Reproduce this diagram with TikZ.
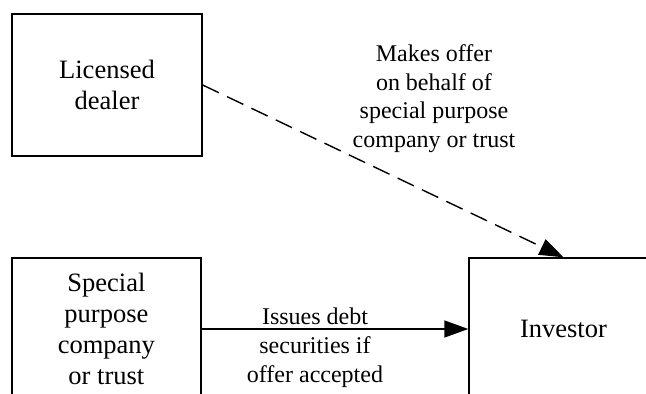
\documentclass[tikz,border=0pt]{standalone}
\usepackage{fontspec}
\setmainfont{Liberation Serif}
\usetikzlibrary{arrows.meta}
\begin{document}
\begin{tikzpicture}[x=1pt,y=-1pt,
  box/.style={draw, line width=1.4pt, minimum width=189pt, minimum height=142pt,
    inner sep=0pt, align=center, font=\fontsize{26.5}{31}\selectfont},
  lab/.style={align=center, inner sep=0pt, font=\fontsize{24}{28.6}\selectfont},
  conn/.style={line width=1.4pt, -{Triangle[length=24pt,width=17pt]}},
  dashconn/.style={conn, dash pattern=on 18pt off 9pt}]
\clip (0,0) rectangle (646,394);
\node[box, minimum width=190pt] (dealer) at (107,85) {Licensed\\dealer};
\node[box] (spc) at (106.4,329) {Special\\purpose\\company\\or trust};
\node[box] (investor) at (563.5,329) {Investor};
\draw[dashconn] (dealer.east) -- (investor.north);
\draw[conn] (spc.east) -- (investor.west);
\node[lab] (offer) at (434,98.6) {Makes offer\\on behalf of\\special purpose\\company or trust};
\node[lab] (issue) at (315,347.7) {Issues debt\\securities if\\offer accepted};
\end{tikzpicture}
\end{document}
